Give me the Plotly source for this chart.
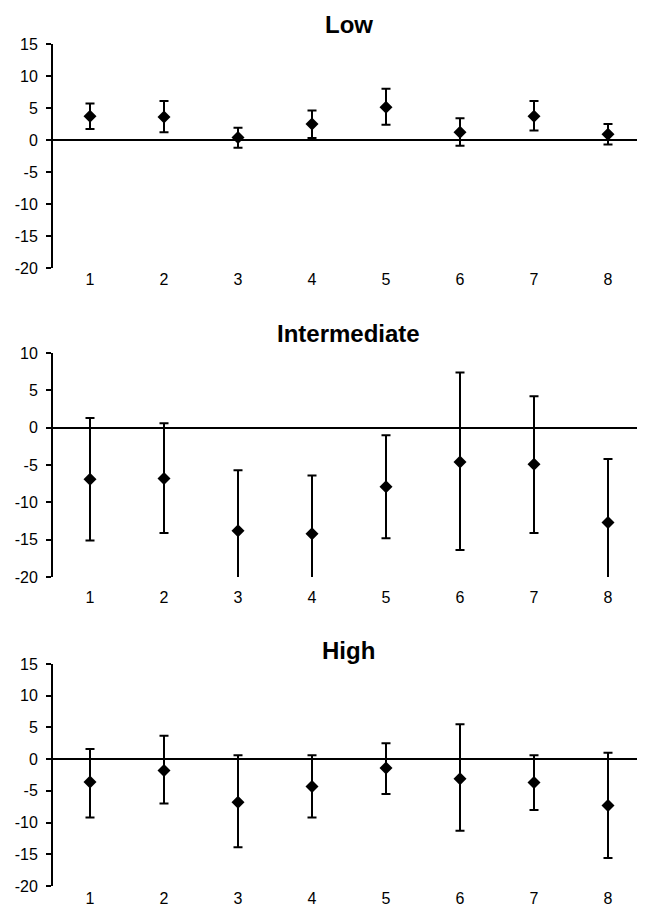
import plotly.graph_objects as go

categories = [1, 2, 3, 4, 5, 6, 7, 8]
tick_labels = ["1", "2", "3", "4", "5", "6", "7", "8"]

low_mean = [3.7, 3.6, 0.4, 2.5, 5.1, 1.2, 3.7, 0.9]
low_err_plus = [2.0, 2.5, 1.5, 2.1, 2.9, 2.2, 2.4, 1.6]
low_err_minus = [2.0, 2.4, 1.6, 2.2, 2.7, 2.1, 2.2, 1.6]

int_mean = [-6.9, -6.8, -13.8, -14.2, -7.9, -4.6, -4.9, -12.7]
int_err_plus = [8.2, 7.4, 8.1, 7.8, 6.9, 12.0, 9.1, 8.5]
int_err_minus = [8.2, 7.3, 8.1, 7.8, 6.9, 11.8, 9.2, 8.5]

high_mean = [-3.6, -1.8, -6.8, -4.3, -1.4, -3.1, -3.7, -7.3]
high_err_plus = [5.2, 5.5, 7.4, 4.9, 3.9, 8.6, 4.3, 8.3]
high_err_minus = [5.6, 5.2, 7.1, 4.9, 4.1, 8.2, 4.3, 8.3]

titles = ["Low", "Intermediate", "High"]
y_ranges = [[-20, 15], [-20, 10], [-20, 15]]
y_ticks = [[15, 10, 5, 0, -5, -10, -15, -20],
           [10, 5, 0, -5, -10, -15, -20],
           [15, 10, 5, 0, -5, -10, -15, -20]]

# page has an 8px body margin: figure drawn at (8, 8)
OFF = 8
W, H = 645 - OFF, 909 - OFF
# reference pixel positions of panels (top, bottom)
panels_px = [(44, 268), (353, 577), (664, 886)]
title_px = [25, 334, 650]
xlabel_standoff = [0, 9, 1]
x_left, x_right = 53, 645

series = [
    (low_mean, low_err_plus, low_err_minus),
    (int_mean, int_err_plus, int_err_minus),
    (high_mean, high_err_plus, high_err_minus),
]

FONT = "Arial, 'Liberation Sans', sans-serif"


def px_x(p):
    return (p - OFF) / W


def px_y(p):
    return 1 - (p - OFF) / H


fig = go.Figure()
layout = dict(
    template="none",
    width=W, height=H,
    autosize=False,
    margin=dict(l=0, r=0, t=0, b=0, pad=0),
    paper_bgcolor="white", plot_bgcolor="white",
    showlegend=False,
    font=dict(family=FONT, color="black"),
    annotations=[],
)

for i, (mean, ep, em) in enumerate(series):
    sfx = "" if i == 0 else str(i + 1)
    fig.add_trace(go.Scatter(
        x=categories, y=mean,
        mode="markers",
        marker=dict(symbol="diamond", size=10, color="black"),
        error_y=dict(type="data", symmetric=False, array=ep, arrayminus=em,
                     color="black", thickness=2, width=4.5),
        xaxis="x" + sfx, yaxis="y" + sfx,
    ))
    top, bot = panels_px[i]
    layout["xaxis" + sfx] = dict(
        domain=[px_x(x_left), min(1.0, px_x(x_right))],
        range=[0.5, 8.5],
        tickvals=categories, ticktext=tick_labels,
        showline=False, showgrid=False, zeroline=False,
        ticks="", automargin=False,
        ticklabelstandoff=xlabel_standoff[i],
        tickfont=dict(size=16, family=FONT, color="black"),
        anchor="y" + sfx, fixedrange=True,
    )
    layout["yaxis" + sfx] = dict(
        domain=[px_y(bot), px_y(top)],
        range=y_ranges[i],
        tickvals=y_ticks[i],
        ticktext=[str(v) for v in y_ticks[i]],
        showline=True, linecolor="black", linewidth=2,
        showgrid=False, automargin=False,
        zeroline=True, zerolinecolor="black", zerolinewidth=2,
        ticks="outside", ticklen=5, tickwidth=1.5, tickcolor="black",
        ticklabelstandoff=5,
        tickfont=dict(size=16, family=FONT, color="black"),
        anchor="x" + sfx, fixedrange=True,
    )
    layout["annotations"].append(dict(
        text="<b>" + titles[i] + "</b>",
        xref="paper", yref="paper",
        x=px_x(349), y=px_y(title_px[i]),
        xanchor="center", yanchor="middle",
        showarrow=False,
        font=dict(size=24, family=FONT, color="black"),
    ))

fig.update_layout(**layout)
fig.write_html("out.html")
